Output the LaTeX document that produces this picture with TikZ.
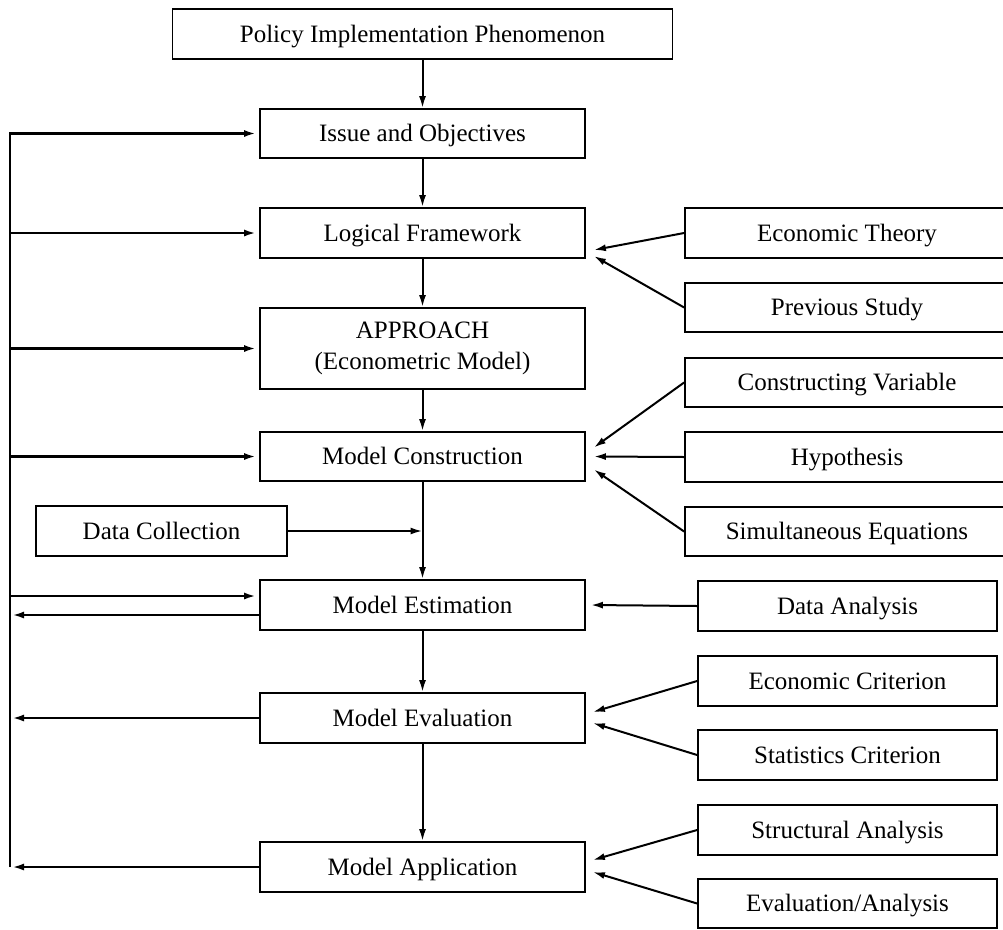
\documentclass[tikz,border=0pt]{standalone}
\usepackage{fontspec}
\setmainfont{Liberation Serif}
\usetikzlibrary{arrows.meta,calc}
\begin{document}
\begin{tikzpicture}[x=1pt,y=1pt,
  box/.style={draw, line width=1.8pt, inner sep=0pt, font=\fontsize{25}{30.5}\selectfont, align=center},
  tbox/.style={box, text height=19pt, text depth=3pt},
  cbox/.style={tbox, minimum width=325pt, minimum height=50pt},
  rboxa/.style={tbox, minimum width=324pt, minimum height=50pt},
  rboxb/.style={tbox, minimum width=299pt, minimum height=50pt},
  arr/.style={line width=2pt, -{Latex[length=12pt,width=7pt]}},
  farr/.style={line width=2.5pt, -{Latex[length=12pt,width=7pt]}}
]
\useasboundingbox (0,0) rectangle (1003,-929);

% centre column
\node[tbox, minimum width=500pt, minimum height=50pt] (pip) at (422.5,-34) {Policy Implementation Phenomenon};
\node[cbox, minimum height=49pt] (io) at (422.5,-133.5) {Issue and Objectives};
\node[cbox] (lf) at (422.5,-233) {Logical Framework};
\node[box, minimum width=325pt, minimum height=81pt] (ap) at (422.5,-348.5) {APPROACH\\(Econometric Model)};
\node[cbox, minimum height=49pt] (mc) at (422.5,-456.5) {Model Construction};
\node[tbox, minimum width=251pt, minimum height=50pt] (dc) at (161.5,-531) {Data Collection};
\node[cbox] (me) at (422.5,-605) {Model Estimation};
\node[cbox] (mv) at (422.5,-718) {Model Evaluation};
\node[cbox] (ma) at (422.5,-867) {Model Application};

% right column
\node[rboxa] (et) at (847,-233) {Economic Theory};
\node[rboxa, minimum height=49pt] (ps) at (847,-307.5) {Previous Study};
\node[rboxa, minimum height=49pt] (cv) at (847,-382.5) {Constructing Variable};
\node[rboxa] (hy) at (847,-457) {Hypothesis};
\node[rboxa, minimum height=49pt] (se) at (847,-531.5) {Simultaneous Equations};
\node[rboxb] (da) at (847.5,-606) {Data Analysis};
\node[rboxb] (ec) at (847.5,-681) {Economic Criterion};
\node[rboxb] (sc) at (847.5,-755) {Statistics Criterion};
\node[rboxb] (sa) at (847.5,-830) {Structural Analysis};
\node[rboxb, minimum height=49pt] (ea) at (847.5,-903.5) {Evaluation/Analysis};

% main flow
\draw[arr] (pip.south) -- (io.north);
\draw[arr] (io.south) -- (lf.north);
\draw[arr] (lf.south) -- (ap.north);
\draw[arr] (ap.south) -- (mc.north);
\draw[arr] (mc.south) -- (me.north);
\draw[arr] (me.south) -- (mv.north);
\draw[arr] (mv.south) -- (ma.north);
\draw[arr] (dc.east) -- (dc.east -| mc.south);

% inputs from the right
\draw[arr] (et.west) -- ([xshift=8pt,yshift=-17pt]lf.east);
\draw[arr] (ps.west) -- ([xshift=8pt,yshift=-23pt]lf.east);
\draw[arr] (cv.west) -- ([xshift=8pt,yshift=9pt]mc.east);
\draw[arr] (hy.west) -- ([xshift=8pt]mc.east);
\draw[arr] (se.west) -- ([xshift=8pt,yshift=-13pt]mc.east);
\draw[arr] (da.west) -- ([xshift=5pt]me.east);
\draw[arr] (ec.west) -- ([xshift=7pt,yshift=6pt]mv.east);
\draw[arr] (sc.west) -- ([xshift=7pt,yshift=-5pt]mv.east);
\draw[arr] (sa.west) -- ([xshift=7pt,yshift=7pt]ma.east);
\draw[arr] (ea.west) -- ([xshift=7pt,yshift=-5pt]ma.east);

% feedback loop on the left
\coordinate (L) at (10,0);
\coordinate (Lt) at (12,0);
\coordinate (mein) at ([yshift=9pt]me.west);
\coordinate (meout) at ([yshift=-10pt]me.west);
\draw[farr] (L |- ma.west) -- (L |- io.west) -- ([xshift=-3pt]io.west);
\draw[farr] (L |- lf.west) -- ([xshift=-3pt]lf.west);
\draw[farr] (L |- ap.west) -- ([xshift=-3pt]ap.west);
\draw[farr] (L |- mc.west) -- ([xshift=-3pt]mc.west);
\draw[farr] (L |- mein) -- ([xshift=-3pt]mein);
\draw[farr] (meout) -- (Lt |- meout);
\draw[farr] (mv.west) -- (Lt |- mv.west);
\draw[farr] (ma.west) -- (Lt |- ma.west);
\end{tikzpicture}
\end{document}
